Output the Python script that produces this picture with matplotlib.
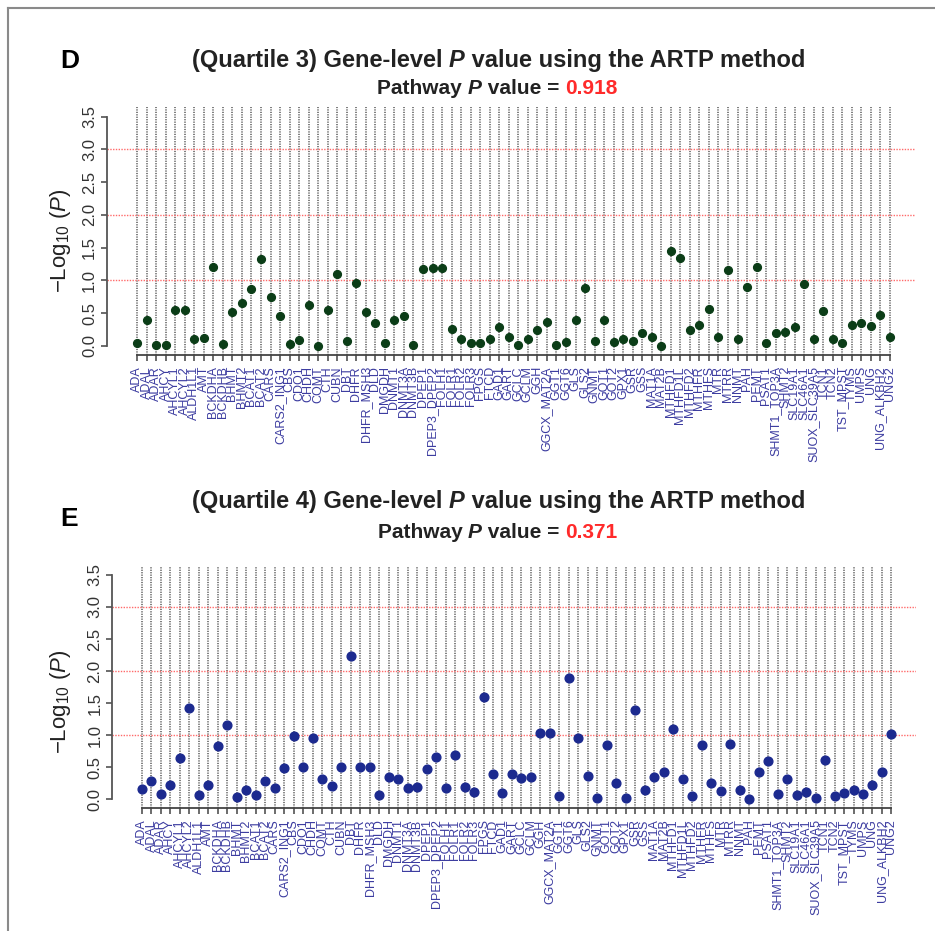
import matplotlib
matplotlib.use("Agg")
import matplotlib.pyplot as plt
from matplotlib.lines import Line2D

plt.rcParams["font.family"] = ["Liberation Sans", "DejaVu Sans"]
plt.rcParams["mathtext.fontset"] = "custom"
plt.rcParams["mathtext.rm"] = "Liberation Sans"
plt.rcParams["mathtext.it"] = "Liberation Sans:italic"

genes = [
    "ADA", "ADAL", "ADAR", "AHCY", "AHCYL1", "AHCYL2", "ALDH1L1", "AMT", "BCKDHA", "BCKDHB",
    "BHMT", "BHMT2", "BCAT1", "BCAT2", "CARS", "CARS2_ING1", "CBS", "CDO1", "CHDH", "COMT",
    "CTH", "CUBN", "DBT", "DHFR", "DHFR_MSH3", "DLD", "DMGDH", "DNMT1", "DNMT3A", "DNMT3B",
    "DPEP1", "DPEP3_DPEP2", "FOLH1", "FOLR1", "FOLR2", "FOLR3", "FPGS", "FTCD", "GAD1", "GART",
    "GCLC", "GCLM", "GGH", "GGCX_MAT2A", "GGT1", "GGT6", "GLS", "GLS2", "GNMT", "GOT1",
    "GOT2", "GPX1", "GSR", "GSS", "MAT1A", "MAT2B", "MTHFD1", "MTHFD1L", "MTHFD2", "MTHFR",
    "MTHFS", "MTR", "MTRR", "NNMT", "PAH", "PEMT", "PSAT1", "SHMT1_TOP3A", "SHMT2", "SLC19A1",
    "SLC46A1", "SUOX_SLC39A5", "TCN1", "TCN2", "TST_MPST", "TYMS", "UMPS", "UNG", "UNG_ALKBH2", "UNG2",
]

quartile3 = [
    0.05, 0.40, 0.02, 0.01, 0.54, 0.54, 0.10, 0.12, 1.21, 0.03,
    0.52, 0.66, 0.86, 1.32, 0.75, 0.46, 0.03, 0.09, 0.62, 0.00,
    0.55, 1.10, 0.08, 0.96, 0.52, 0.35, 0.05, 0.39, 0.45, 0.02,
    1.17, 1.19, 1.19, 0.25, 0.11, 0.05, 0.05, 0.11, 0.28, 0.14,
    0.01, 0.10, 0.24, 0.37, 0.02, 0.06, 0.40, 0.89, 0.07, 0.39,
    0.06, 0.11, 0.08, 0.19, 0.14, 0.00, 1.44, 1.34, 0.24, 0.32,
    0.56, 0.14, 1.15, 0.10, 0.90, 1.21, 0.05, 0.19, 0.21, 0.28,
    0.95, 0.10, 0.53, 0.10, 0.05, 0.32, 0.35, 0.31, 0.47, 0.14,
]

quartile4 = [
    0.16, 0.28, 0.09, 0.23, 0.64, 1.42, 0.06, 0.23, 0.83, 1.16,
    0.03, 0.15, 0.06, 0.28, 0.18, 0.49, 0.99, 0.51, 0.95, 0.32,
    0.20, 0.50, 2.24, 0.50, 0.51, 0.06, 0.35, 0.31, 0.18, 0.19,
    0.48, 0.66, 0.17, 0.69, 0.19, 0.12, 1.60, 0.40, 0.10, 0.40,
    0.33, 0.35, 1.03, 1.03, 0.05, 1.90, 0.96, 0.36, 0.02, 0.85,
    0.26, 0.02, 1.40, 0.15, 0.35, 0.43, 1.10, 0.31, 0.05, 0.84,
    0.25, 0.13, 0.86, 0.15, 0.01, 0.42, 0.59, 0.09, 0.32, 0.06,
    0.11, 0.02, 0.61, 0.05, 0.10, 0.15, 0.09, 0.23, 0.42, 1.02,
]

y_ticks = [0.0, 0.5, 1.0, 1.5, 2.0, 2.5, 3.0, 3.5]
threshold_lines = [1, 2, 3]


def draw_pieces(fig, x_center, y, pieces, size):
    """Draw a row of text pieces with their own styles, centred on x_center."""
    renderer = fig.canvas.get_renderer()
    texts = []
    for text, style, color in pieces:
        t = fig.text(0, y, text, fontsize=size, fontweight="bold", fontstyle=style,
                     color=color, va="center", ha="left")
        texts.append(t)
    widths = [t.get_window_extent(renderer).width / fig.bbox.width for t in texts]
    x = x_center - sum(widths) / 2
    for t, w in zip(texts, widths):
        t.set_x(x)
        x += w


def gene_panel(fig, rect, values, color, marker_size, label_xy):
    ax = fig.add_axes(rect)
    x = list(range(1, len(values) + 1))

    for pos in x:
        ax.axvline(pos, color="#5a5a5a", lw=1.1, ls=(0, (0.8, 0.8)), zorder=1)
    for level in threshold_lines:
        ax.axhline(level, color="#ff6a6a", lw=1.0, ls=(0, (1, 1)), zorder=1)

    ax.plot(x, values, "o", color=color, markersize=marker_size, zorder=3)

    ax.set_xlim(-2.16, 82.6)
    ax.set_ylim(-0.14, 3.64)

    for side in ["top", "right"]:
        ax.spines[side].set_visible(False)
    ax.spines["left"].set_bounds(0, 3.5)
    ax.spines["bottom"].set_bounds(1, len(values))
    ax.spines["left"].set_color("#555555")
    ax.spines["bottom"].set_color("#444444")
    ax.spines["left"].set_linewidth(1.3)
    ax.spines["bottom"].set_linewidth(1.3)

    ax.set_yticks(y_ticks)
    ax.set_yticklabels([f"{v:.1f}" for v in y_ticks], rotation=90, va="center",
                       fontsize=12, color="#333333")
    ax.set_xticks(x)
    ax.set_xticklabels(genes, rotation=90, fontsize=9, color="#3c3ca0")
    ax.tick_params(axis="both", length=4, color="#444444", width=1.1)
    ax.tick_params(axis="x", pad=4)
    ax.tick_params(axis="y", pad=3)

    ax.set_ylabel(r"$-$Log$_{10}$ ($P$)", fontsize=16, color="#222222")
    ax.yaxis.set_label_coords(*label_xy)
    return ax


def main():
    fig = plt.figure(figsize=(9.35, 9.31), dpi=100)

    # grey frame along the top and left edges
    fig.add_artist(Line2D([0.009, 1.0], [0.991, 0.991], color="#8a8a8a", lw=1.5))
    fig.add_artist(Line2D([0.009, 0.009], [0.0, 0.991], color="#8a8a8a", lw=1.5))

    # panel D
    fig.text(0.064, 0.935, "D", fontsize=19, fontweight="bold", va="center")
    draw_pieces(fig, 0.533, 0.935,
                [("(Quartile 3) Gene-level ", "normal", "#222222"),
                 ("P", "italic", "#222222"),
                 (" value using the ARTP method", "normal", "#222222")], 17)
    draw_pieces(fig, 0.532, 0.905,
                [("Pathway ", "normal", "#222222"),
                 ("P", "italic", "#222222"),
                 (" value = ", "normal", "#222222"),
                 ("0.918", "normal", "#ff2a2a")], 15)
    gene_panel(fig, [0.1144, 0.6187, 0.864, 0.266], quartile3, "#0b3d17", 5.6,
               (-0.042, 0.46))

    # panel E
    fig.text(0.064, 0.443, "E", fontsize=19, fontweight="bold", va="center")
    draw_pieces(fig, 0.533, 0.461,
                [("(Quartile 4) Gene-level ", "normal", "#222222"),
                 ("P", "italic", "#222222"),
                 (" value using the ARTP method", "normal", "#222222")], 17)
    draw_pieces(fig, 0.532, 0.428,
                [("Pathway ", "normal", "#222222"),
                 ("P", "italic", "#222222"),
                 (" value = ", "normal", "#222222"),
                 ("0.371", "normal", "#ff2a2a")], 15)
    gene_panel(fig, [0.1198, 0.1318, 0.860, 0.2603], quartile4, "#1c2a8f", 6.3,
               (-0.0485, 0.44))

    fig.savefig("out.png", dpi=100, facecolor="white")


if __name__ == "__main__":
    main()
